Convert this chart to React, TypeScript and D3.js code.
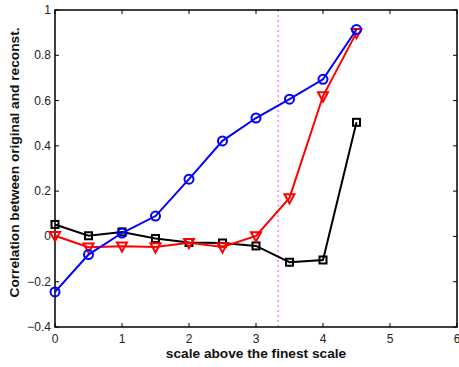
import React from "react";
import * as d3 from "d3";

const xs = [0, 0.5, 1, 1.5, 2, 2.5, 3, 3.5, 4, 4.5];
const blue = [-0.245, -0.08, 0.015, 0.09, 0.253, 0.422, 0.523, 0.606, 0.694, 0.914];
const red = [0.003, -0.048, -0.043, -0.047, -0.028, -0.047, 0.002, 0.17, 0.62, 0.9];
const black = [0.053, 0.003, 0.02, -0.009, -0.027, -0.029, -0.042, -0.114, -0.104, 0.504];
const xTicks = [0, 1, 2, 3, 4, 5, 6];
const yTicks = [-0.4, -0.2, 0, 0.2, 0.4, 0.6, 0.8, 1];
const vline = 3.33;

const W = 459, H = 367;
const m = { l: 55, r: 2, t: 10, b: 40 };

export default function App() {
  const x = d3.scaleLinear().domain([0, 6]).range([m.l, W - m.r]);
  const y = d3.scaleLinear().domain([-0.4, 1]).range([H - m.b, m.t]);
  const line = d3.line<number>().x((_, i) => x(xs[i])).y((d) => y(d));
  const font = "'Liberation Sans', Arial, Helvetica, sans-serif";
  const x0 = x(0), x1 = x(6), y0 = y(-0.4), y1 = y(1);
  const tl = 4;
  const tri = (cx: number, cy: number) => {
    const s = 5;
    return `M${cx - s},${cy - s * 0.75}L${cx + s},${cy - s * 0.75}L${cx},${cy + s * 1.1}Z`;
  };
  return (
    <svg width={W} height={H} style={{ position: "absolute", left: 0, top: 0, display: "block", background: "#fff" }}>
      <rect x={0} y={0} width={W} height={H} fill="#fff" />
      <line x1={x(vline)} x2={x(vline)} y1={y1} y2={y0} stroke="#ff44ff" strokeWidth={1} strokeDasharray="2,3" />
      <rect x={x0} y={y1} width={x1 - x0} height={y0 - y1} fill="none" stroke="#000" strokeWidth={1.5} />
      {xTicks.map((t) => (
        <g key={"x" + t}>
          <line x1={x(t)} x2={x(t)} y1={y0} y2={y0 - tl} stroke="#000" />
          <line x1={x(t)} x2={x(t)} y1={y1} y2={y1 + tl} stroke="#000" />
          <text x={x(t)} y={y0 + 16} textAnchor="middle" fontSize={12} fontFamily={font} fill="#222">{t}</text>
        </g>
      ))}
      {yTicks.map((t) => (
        <g key={"y" + t}>
          <line x1={x0} x2={x0 + tl} y1={y(t)} y2={y(t)} stroke="#000" />
          <line x1={x1} x2={x1 - tl} y1={y(t)} y2={y(t)} stroke="#000" />
          <text x={x0 - 4} y={y(t) + 4} textAnchor="end" fontSize={12} fontFamily={font} fill="#222">
            {t < 0 ? "\u2212" + Math.abs(t) : String(t)}
          </text>
        </g>
      ))}
      <path d={line(black) || ""} fill="none" stroke="#000" strokeWidth={2} />
      {black.map((v, i) => (
        <rect key={"b" + i} x={x(xs[i]) - 3.5} y={y(v) - 3.5} width={7} height={7} fill="none" stroke="#000" strokeWidth={2} />
      ))}
      <path d={line(red) || ""} fill="none" stroke="#ff0000" strokeWidth={2} />
      {red.map((v, i) => (
        <path key={"r" + i} d={tri(x(xs[i]), y(v))} fill="none" stroke="#ff0000" strokeWidth={2} />
      ))}
      <path d={line(blue) || ""} fill="none" stroke="#0000ff" strokeWidth={2} />
      {blue.map((v, i) => (
        <circle key={"c" + i} cx={x(xs[i])} cy={y(v)} r={4.5} fill="none" stroke="#0000ff" strokeWidth={2} />
      ))}
      <text x={256} y={358} textAnchor="middle" fontSize={13.7} fontWeight="bold" fontFamily={font} fill="#111">
        scale above the finest scale
      </text>
      <text transform={`translate(19,${162.5}) rotate(-90)`} textAnchor="middle" fontSize={13.7} fontWeight="bold" fontFamily={font} fill="#111">
        Correlation between original and reconst.
      </text>
    </svg>
  );
}
